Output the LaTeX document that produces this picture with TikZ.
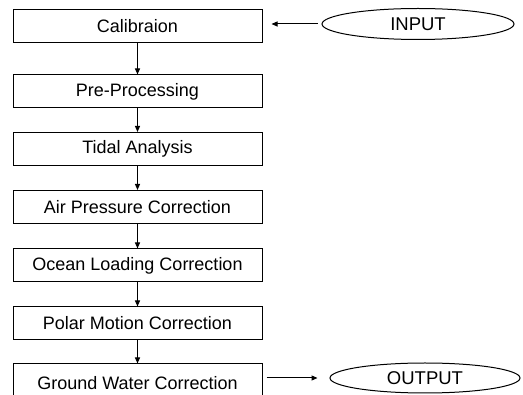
\documentclass[tikz,border=0pt]{standalone}
\usepackage{fontspec}
\setmainfont{Liberation Sans}
\usetikzlibrary{arrows.meta,shapes.geometric}
\begin{document}
\begin{tikzpicture}[x=1pt,y=-1pt,
  stage/.style={draw,line width=1pt,minimum width=249pt,minimum height=33pt,inner sep=0pt,font=\fontsize{18}{20}\selectfont},
  io/.style={draw,ellipse,line width=1pt,minimum width=192pt,minimum height=31pt,inner sep=0pt,font=\fontsize{18.5}{20}\selectfont},
  arr/.style={line width=1pt,-{Triangle[length=6pt,width=5pt]}}]
\useasboundingbox (0,0) rectangle (523,395);
\node[stage] (cal) at (137.5,26) {Calibraion};
\node[stage] (pre) at (137.5,91.5) {Pre-Processing};
\node[stage] (tid) at (137.5,149) {Tidal Analysis};
\node[stage] (air) at (137.5,207) {Air Pressure Correction};
\node[stage] (oce) at (137.5,265.5) {Ocean Loading Correction};
\node[stage] (pol) at (137.5,323.5) {Polar Motion Correction};
\node[stage,minimum height=38pt] (gro) at (137.5,383) {Ground Water Correction};
\node[io] (in) at (418,24) {INPUT};
\node[io,minimum width=190pt,minimum height=30pt] (out) at (425,378) {OUTPUT};
\draw[arr] (cal) -- (pre);
\draw[arr] (pre) -- (tid);
\draw[arr] (tid) -- (air);
\draw[arr] (air) -- (oce);
\draw[arr] (oce) -- (pol);
\draw[arr] (pol) -- (gro);
\draw[arr] ([xshift=-4pt]in.west) -- ([xshift=9pt]cal.east |- in.west);
\draw[arr] ([xshift=4pt]gro.east |- out.west) -- ([xshift=-12pt]out.west);
\end{tikzpicture}
\end{document}
